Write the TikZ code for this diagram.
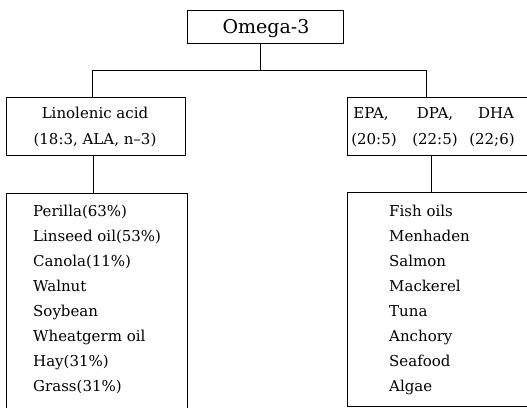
\documentclass[tikz,border=0pt]{standalone}
\usepackage{fontspec}
\setmainfont{DejaVu Serif}
\begin{document}
\begin{tikzpicture}[x=1pt,y=-1pt,
  box/.style={draw, line width=1pt, inner sep=0pt, anchor=north west},
  wire/.style={line width=1pt},
  txt/.style={inner sep=0pt, anchor=base, font=\fontsize{15}{18}\selectfont},
  item/.style={txt, anchor=base west},
  title/.style={inner sep=0pt, anchor=base, font=\fontsize{19}{22}\selectfont}]
\useasboundingbox (0,0) rectangle (527,407);
\clip (0,0) rectangle (527,407);
% boxes
\node[box, minimum width=156pt, minimum height=33pt] (omega) at (187,10) {};
\node[box, minimum width=179pt, minimum height=58pt] (lin) at (6,97) {};
\node[box, minimum width=200pt, minimum height=58pt] (epa) at (347,97) {};
\node[box, minimum width=181pt, minimum height=240pt] (plant) at (6,193) {};
\node[box, minimum width=200pt, minimum height=214pt] (fish) at (347,192) {};
% texts
\node[title] (t0) at (266,33) {Omega-3};
\node[txt] (t1) at (95,118) {Linolenic acid};
\node[txt] (t2) at (95,144) {(18:3, ALA, n–3)};
\node[txt] (e1) at (371,118) {EPA,};
\node[txt] (e2) at (435,118) {DPA,};
\node[txt] (e3) at (496,118) {DHA};
\node[txt] (e4) at (374,144) {(20:5)};
\node[txt] (e5) at (435,144) {(22:5)};
\node[txt] (e6) at (492,144) {(22;6)};
\foreach \s [count=\i from 0] in {Perilla(63\%), Linseed oil(53\%), Canola(11\%), Walnut, Soybean, Wheatgerm oil, Hay(31\%), Grass(31\%)}
  \node[item] (p\i) at (33,216+25*\i) {\s};
\foreach \s [count=\i from 0] in {Fish oils, Menhaden, Salmon, Mackerel, Tuna, Anchory, Seafood, Algae}
  \node[item] (f\i) at (389,216+25*\i) {\s};
% connectors
\coordinate (jc) at (260,70);
\coordinate (jl) at (92,70);
\coordinate (jr) at (426,70);
\coordinate (kl) at (93,0);
\coordinate (kr) at (431,0);
\draw[wire] (jc |- omega.south) -- (jc);
\draw[wire] (jl |- lin.north) -- (jl) -- (jr) -- (jr |- epa.north);
\draw[wire] (kl |- lin.south) -- (kl |- plant.north);
\draw[wire] (kr |- epa.south) -- (kr |- fish.north);
\end{tikzpicture}
\end{document}
